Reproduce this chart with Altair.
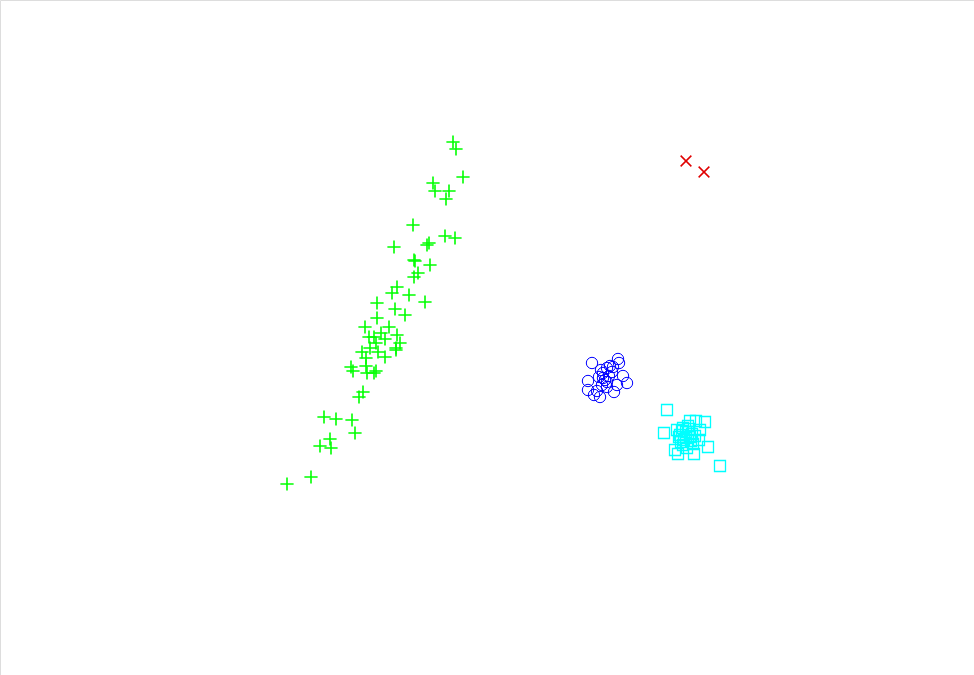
import altair as alt
import pandas as pd

# Values (x to the right, y downward, in picture units)
green_x = [453, 456, 463, 433, 435, 449, 446, 413, 445, 455, 429, 427, 394, 414, 415,
           430, 418, 414, 397, 392, 409, 425, 377, 395, 405, 377, 365, 389, 369, 374,
           381, 397, 385, 376, 400, 396, 396, 370, 362, 378, 366, 385, 351, 353, 366,
           367, 376, 374, 363, 359, 324, 336, 352, 355, 330, 320, 331, 311, 287]
green_y = [142, 149, 177, 183, 191, 191, 199, 225, 236, 238, 243, 245, 247, 260, 261,
           265, 273, 277, 287, 293, 295, 302, 303, 309, 315, 318, 327, 327, 337, 337,
           333, 335, 339, 343, 343, 348, 350, 348, 352, 352, 358, 357, 367, 371, 366,
           373, 371, 373, 392, 397, 417, 419, 420, 433, 439, 446, 448, 477, 484]

blue_x = [592, 618, 619, 610, 607, 613, 601, 623, 599, 603, 588, 627, 607, 617, 602,
          588, 597, 614, 594, 600, 607, 603, 612, 605, 609]
blue_y = [363, 359, 363, 366, 368, 367, 370, 376, 377, 378, 381, 383, 382, 385, 385,
          390, 391, 392, 395, 397, 387, 373, 372, 380, 376]

cyan_x = [667, 690, 696, 705, 664, 677, 683, 700, 680, 690, 699, 683, 693, 708, 678,
          694, 720, 687, 675, 686, 688, 692, 684, 679, 682, 689, 695, 681, 686, 691]
cyan_y = [410, 421, 421, 422, 433, 430, 428, 430, 435, 437, 440, 445, 444, 447, 454,
          454, 466, 448, 450, 432, 426, 434, 440, 437, 431, 429, 436, 442, 438, 441]

red_x = [686, 704]
red_y = [161, 172]

W, H = 974, 675
xs = alt.Scale(domain=[0, W], nice=False, zero=False)
ys = alt.Scale(domain=[H, 0], nice=False, zero=False)


def layer(xv, yv, shape, color, size, sw, filled=False):
    df = pd.DataFrame({"x": xv, "y": yv})
    return alt.Chart(df).mark_point(
        shape=shape, filled=filled, color=color, size=size, strokeWidth=sw, opacity=1
    ).encode(
        x=alt.X("x:Q", scale=xs, axis=None),
        y=alt.Y("y:Q", scale=ys, axis=None),
    )


plus = "M-1,0H1M0,-1V1"
times = "M-1,-1L1,1M1,-1L-1,1"

chart = alt.layer(
    layer(green_x, green_y, plus, "#00ff00", 175, 1.6),
    layer(blue_x, blue_y, "circle", "#0000ff", 130, 1.0),
    layer(cyan_x, cyan_y, "square", "#00ffff", 121, 1.3),
    layer(red_x, red_y, times, "#e00000", 115, 1.5),
).properties(
    width=W, height=H, padding=0, autosize=alt.AutoSizeParams(type="none")
).configure_view(stroke="transparent", strokeWidth=0).configure(background="white")

chart.save("out.html", embed_options={"renderer": "svg", "actions": False})
